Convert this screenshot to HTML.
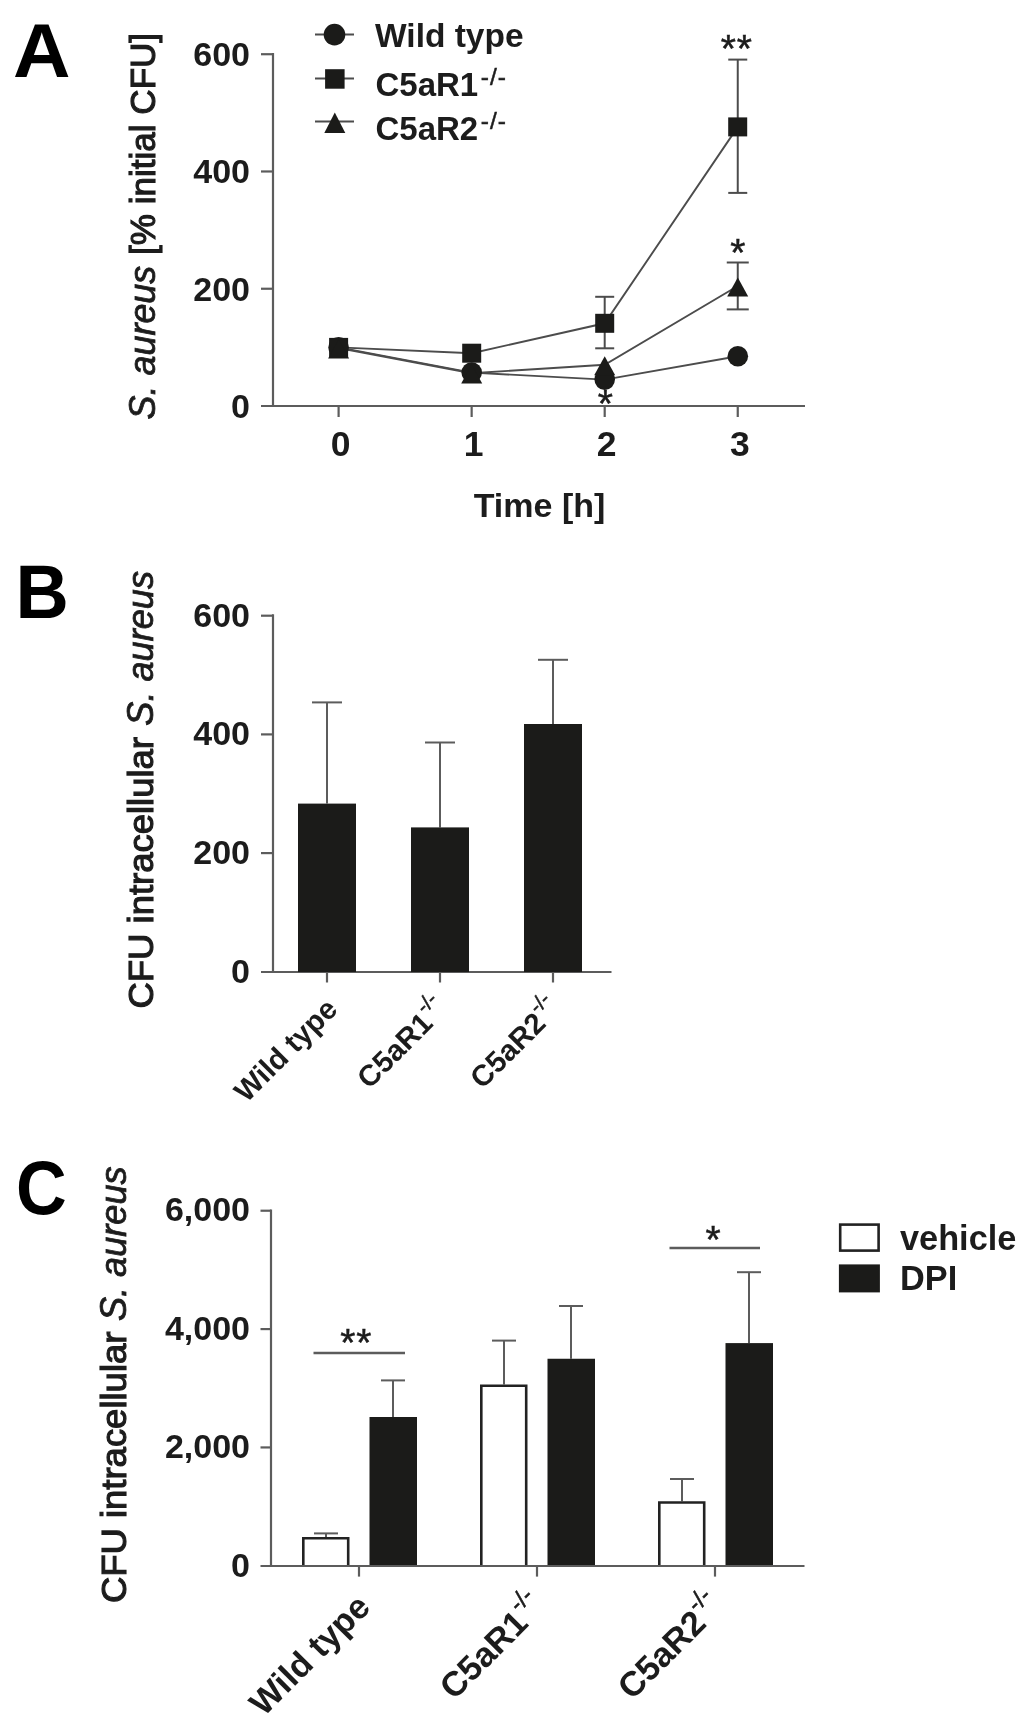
<!DOCTYPE html>
<html lang="en">
<head>
<meta charset="utf-8">
<title>Figure</title>
<style>
html,body{margin:0;padding:0;background:#fff;}
body{width:1024px;height:1728px;overflow:hidden;}
svg{display:block;filter:blur(0.55px);}
svg text{font-family:"Liberation Sans",sans-serif;fill:#1c1c1c;}
</style>
</head>
<body>
<svg width="1024" height="1728" viewBox="0 0 1024 1728">
<rect width="1024" height="1728" fill="#fff"/>
<text x="13" y="76.8" font-size="76" text-anchor="start" font-weight="bold" font-style="normal" style="fill:#000" textLength="57.5" lengthAdjust="spacingAndGlyphs">A</text>
<text x="15.6" y="617.6" font-size="76.5" text-anchor="start" font-weight="bold" font-style="normal" style="fill:#000" textLength="53.3" lengthAdjust="spacingAndGlyphs">B</text>
<text x="16" y="1214.4" font-size="76.5" text-anchor="start" font-weight="bold" font-style="normal" style="fill:#000" textLength="50.7" lengthAdjust="spacingAndGlyphs">C</text>
<line x1="273" y1="53" x2="273" y2="407.1" stroke="#5c5c5c" stroke-width="2.2"/>
<line x1="261" y1="406" x2="805" y2="406" stroke="#5c5c5c" stroke-width="2.2"/>
<text x="250" y="418.0" font-size="34" text-anchor="end" font-weight="bold" font-style="normal" >0</text>
<line x1="261" y1="288.74" x2="273" y2="288.74" stroke="#5c5c5c" stroke-width="2.2"/>
<text x="250" y="300.74" font-size="34" text-anchor="end" font-weight="bold" font-style="normal" >200</text>
<line x1="261" y1="171.48" x2="273" y2="171.48" stroke="#5c5c5c" stroke-width="2.2"/>
<text x="250" y="183.48" font-size="34" text-anchor="end" font-weight="bold" font-style="normal" >400</text>
<line x1="261" y1="54.21999999999997" x2="273" y2="54.21999999999997" stroke="#5c5c5c" stroke-width="2.2"/>
<text x="250" y="66.21999999999997" font-size="34" text-anchor="end" font-weight="bold" font-style="normal" >600</text>
<line x1="338.6" y1="406" x2="338.6" y2="417" stroke="#5c5c5c" stroke-width="2.2"/>
<text x="340.6" y="456" font-size="35.5" text-anchor="middle" font-weight="bold" font-style="normal" >0</text>
<line x1="471.65000000000003" y1="406" x2="471.65000000000003" y2="417" stroke="#5c5c5c" stroke-width="2.2"/>
<text x="473.65000000000003" y="456" font-size="35.5" text-anchor="middle" font-weight="bold" font-style="normal" >1</text>
<line x1="604.7" y1="406" x2="604.7" y2="417" stroke="#5c5c5c" stroke-width="2.2"/>
<text x="606.7" y="456" font-size="35.5" text-anchor="middle" font-weight="bold" font-style="normal" >2</text>
<line x1="737.75" y1="406" x2="737.75" y2="417" stroke="#5c5c5c" stroke-width="2.2"/>
<text x="739.75" y="456" font-size="35.5" text-anchor="middle" font-weight="bold" font-style="normal" >3</text>
<text x="539.5" y="517" font-size="34" text-anchor="middle" font-weight="bold" font-style="normal" >Time [h]</text>
<text transform="translate(154.7,419.4) rotate(-90)" font-size="36" font-style="italic" stroke="#1c1c1c" stroke-width="0.8" textLength="153.7" lengthAdjust="spacingAndGlyphs">S. aureus</text>
<text transform="translate(154.7,254.9) rotate(-90)" font-size="35" font-weight="normal" stroke="#1c1c1c" stroke-width="1.15" textLength="222" lengthAdjust="spacingAndGlyphs">[% initial CFU]</text>
<polyline points="338.6,347.4 471.7,372.6 604.7,379.6 737.8,356.2" fill="none" stroke="#4c4c4c" stroke-width="1.9"/>
<polyline points="338.6,348.0 471.7,373.2 604.7,364.7 737.8,286.0" fill="none" stroke="#4c4c4c" stroke-width="1.9"/>
<polyline points="338.6,347.4 471.7,353.2 604.7,323.3 737.8,126.9" fill="none" stroke="#4c4c4c" stroke-width="1.9"/>
<line x1="737.75" y1="59.6" x2="737.75" y2="192.9" stroke="#4c4c4c" stroke-width="2"/>
<line x1="728.25" y1="59.6" x2="747.25" y2="59.6" stroke="#4c4c4c" stroke-width="2"/>
<line x1="728.25" y1="192.9" x2="747.25" y2="192.9" stroke="#4c4c4c" stroke-width="2"/>
<line x1="604.7" y1="296.8" x2="604.7" y2="348.3" stroke="#4c4c4c" stroke-width="2"/>
<line x1="595.2" y1="296.8" x2="614.2" y2="296.8" stroke="#4c4c4c" stroke-width="2"/>
<line x1="595.2" y1="348.3" x2="614.2" y2="348.3" stroke="#4c4c4c" stroke-width="2"/>
<line x1="737.75" y1="262.5" x2="737.75" y2="309.4" stroke="#4c4c4c" stroke-width="2"/>
<line x1="726.75" y1="262.5" x2="748.75" y2="262.5" stroke="#4c4c4c" stroke-width="2"/>
<line x1="726.75" y1="309.4" x2="748.75" y2="309.4" stroke="#4c4c4c" stroke-width="2"/>
<text x="605.7" y="417.2" font-size="39" text-anchor="middle" font-weight="normal" font-style="normal" stroke="#1c1c1c" stroke-width="0.5" letter-spacing="0.9">*</text>
<text x="736.75" y="61.7" font-size="39" text-anchor="middle" font-weight="normal" font-style="normal" stroke="#1c1c1c" stroke-width="0.5" letter-spacing="0.9">**</text>
<text x="738.25" y="266.3" font-size="39" text-anchor="middle" font-weight="normal" font-style="normal" stroke="#1c1c1c" stroke-width="0.5" letter-spacing="0.9">*</text>
<circle cx="338.6" cy="347.4" r="10.3" fill="#1b1b19"/>
<rect x="329.1" y="337.9" width="19" height="19" fill="#1b1b19"/>
<polygon points="338.6,339.4 328.1,358.4 349.1,358.4" fill="#1b1b19"/>
<circle cx="471.7" cy="372.6" r="10.3" fill="#1b1b19"/>
<rect x="462.2" y="343.7" width="19" height="19" fill="#1b1b19"/>
<polygon points="471.7,364.6 461.2,383.6 482.2,383.6" fill="#1b1b19"/>
<circle cx="604.7" cy="379.6" r="10.3" fill="#1b1b19"/>
<rect x="595.2" y="313.8" width="19" height="19" fill="#1b1b19"/>
<polygon points="604.7,356.2 594.2,375.2 615.2,375.2" fill="#1b1b19"/>
<circle cx="737.8" cy="356.2" r="10.3" fill="#1b1b19"/>
<rect x="728.2" y="117.4" width="19" height="19" fill="#1b1b19"/>
<polygon points="737.8,277.4 727.2,296.4 748.2,296.4" fill="#1b1b19"/>
<line x1="315" y1="34.6" x2="354" y2="34.6" stroke="#4c4c4c" stroke-width="2"/>
<circle cx="334.5" cy="34.6" r="10.8" fill="#1b1b19"/>
<line x1="315" y1="78.5" x2="354" y2="78.5" stroke="#4c4c4c" stroke-width="2"/>
<rect x="325.1" y="69.2" width="19.5" height="19.5" fill="#1b1b19"/>
<line x1="315" y1="121.6" x2="354" y2="121.6" stroke="#4c4c4c" stroke-width="2"/>
<polygon points="334.8,112.4 324.3,132.9 345.3,132.9" fill="#1b1b19"/>
<text x="375" y="47" font-size="33.5" text-anchor="start" font-weight="bold" font-style="normal" >Wild type</text>
<text x="375.5" y="96" font-size="33" text-anchor="start" font-weight="bold" font-style="normal" >C5aR1<tspan font-size="24.5" dy="-11.5" dx="2.5" letter-spacing="1" font-weight="normal" stroke="#1c1c1c" stroke-width="0.5">-/-</tspan></text>
<text x="375.5" y="140.3" font-size="33" text-anchor="start" font-weight="bold" font-style="normal" >C5aR2<tspan font-size="24.5" dy="-11.5" dx="2.5" letter-spacing="1" font-weight="normal" stroke="#1c1c1c" stroke-width="0.5">-/-</tspan></text>
<line x1="273" y1="614.3" x2="273" y2="973" stroke="#5c5c5c" stroke-width="2.2"/>
<line x1="261" y1="972" x2="611.5" y2="972" stroke="#5c5c5c" stroke-width="2.2"/>
<text x="250" y="982.8" font-size="34" text-anchor="end" font-weight="bold" font-style="normal" >0</text>
<line x1="261" y1="853.0999999999999" x2="273" y2="853.0999999999999" stroke="#5c5c5c" stroke-width="2.2"/>
<text x="250" y="864.0999999999999" font-size="34" text-anchor="end" font-weight="bold" font-style="normal" >200</text>
<line x1="261" y1="734.4" x2="273" y2="734.4" stroke="#5c5c5c" stroke-width="2.2"/>
<text x="250" y="745.4" font-size="34" text-anchor="end" font-weight="bold" font-style="normal" >400</text>
<line x1="261" y1="615.6999999999999" x2="273" y2="615.6999999999999" stroke="#5c5c5c" stroke-width="2.2"/>
<text x="250" y="626.6999999999999" font-size="34" text-anchor="end" font-weight="bold" font-style="normal" >600</text>
<line x1="327" y1="972" x2="327" y2="982.5" stroke="#5c5c5c" stroke-width="2.2"/>
<line x1="327" y1="702.4" x2="327" y2="803.6" stroke="#5c5c5c" stroke-width="2"/>
<line x1="312" y1="702.4" x2="342" y2="702.4" stroke="#5c5c5c" stroke-width="2"/>
<rect x="298" y="803.6" width="58" height="168.4" fill="#1b1b19"/>
<line x1="440" y1="972" x2="440" y2="982.5" stroke="#5c5c5c" stroke-width="2.2"/>
<line x1="440" y1="742.5" x2="440" y2="827.4" stroke="#5c5c5c" stroke-width="2"/>
<line x1="425" y1="742.5" x2="455" y2="742.5" stroke="#5c5c5c" stroke-width="2"/>
<rect x="411" y="827.4" width="58" height="144.6" fill="#1b1b19"/>
<line x1="553" y1="972" x2="553" y2="982.5" stroke="#5c5c5c" stroke-width="2.2"/>
<line x1="553" y1="659.8" x2="553" y2="724" stroke="#5c5c5c" stroke-width="2"/>
<line x1="538" y1="659.8" x2="568" y2="659.8" stroke="#5c5c5c" stroke-width="2"/>
<rect x="524" y="724" width="58" height="248.0" fill="#1b1b19"/>
<text transform="translate(339,1011) rotate(-45)" font-size="29.5" font-weight="bold" text-anchor="end">Wild type</text>
<text transform="translate(448.6,1010.7) rotate(-45)" font-size="29.5" font-weight="bold" text-anchor="end">C5aR1<tspan font-size="21" dy="-14.3" dx="0.4" font-weight="normal" stroke="#1c1c1c" stroke-width="0.5">-/-</tspan></text>
<text transform="translate(561.6,1010.7) rotate(-45)" font-size="29.5" font-weight="bold" text-anchor="end">C5aR2<tspan font-size="21" dy="-14.3" dx="0.4" font-weight="normal" stroke="#1c1c1c" stroke-width="0.5">-/-</tspan></text>
<text transform="translate(152.7,1008.5) rotate(-90)" font-size="35" font-weight="normal" stroke="#1c1c1c" stroke-width="1.15" textLength="271.5" lengthAdjust="spacingAndGlyphs">CFU intracellular</text>
<text transform="translate(152.7,725.7) rotate(-90)" font-size="36" font-style="italic" stroke="#1c1c1c" stroke-width="0.8" textLength="154.7" lengthAdjust="spacingAndGlyphs">S. aureus</text>
<text x="250" y="1576.5" font-size="34" text-anchor="end" font-weight="bold" font-style="normal" >0</text>
<line x1="260.5" y1="1447.44" x2="271" y2="1447.44" stroke="#5c5c5c" stroke-width="2.2"/>
<text x="250" y="1458.14" font-size="34" text-anchor="end" font-weight="bold" font-style="normal" >2,000</text>
<line x1="260.5" y1="1329.08" x2="271" y2="1329.08" stroke="#5c5c5c" stroke-width="2.2"/>
<text x="250" y="1339.78" font-size="34" text-anchor="end" font-weight="bold" font-style="normal" >4,000</text>
<line x1="260.5" y1="1210.7199999999998" x2="271" y2="1210.7199999999998" stroke="#5c5c5c" stroke-width="2.2"/>
<text x="250" y="1221.4199999999998" font-size="34" text-anchor="end" font-weight="bold" font-style="normal" >6,000</text>
<line x1="359" y1="1566" x2="359" y2="1576.6" stroke="#5c5c5c" stroke-width="2.2"/>
<line x1="326" y1="1533.4" x2="326" y2="1536.9" stroke="#5c5c5c" stroke-width="2"/>
<line x1="314" y1="1533.4" x2="338" y2="1533.4" stroke="#5c5c5c" stroke-width="2"/>
<path d="M303.3 1566 V1538.2 H348.2 V1566" fill="#fff" stroke="#222" stroke-width="2.6"/>
<line x1="393" y1="1380.4" x2="393" y2="1417" stroke="#5c5c5c" stroke-width="2"/>
<line x1="381" y1="1380.4" x2="405" y2="1380.4" stroke="#5c5c5c" stroke-width="2"/>
<rect x="369.5" y="1417" width="47.5" height="149.0" fill="#1b1b19"/>
<line x1="537" y1="1566" x2="537" y2="1576.6" stroke="#5c5c5c" stroke-width="2.2"/>
<line x1="504" y1="1340.6" x2="504" y2="1384.4" stroke="#5c5c5c" stroke-width="2"/>
<line x1="492" y1="1340.6" x2="516" y2="1340.6" stroke="#5c5c5c" stroke-width="2"/>
<path d="M481.3 1566 V1385.7 H526.2 V1566" fill="#fff" stroke="#222" stroke-width="2.6"/>
<line x1="571" y1="1306" x2="571" y2="1358.75" stroke="#5c5c5c" stroke-width="2"/>
<line x1="559" y1="1306" x2="583" y2="1306" stroke="#5c5c5c" stroke-width="2"/>
<rect x="547.5" y="1358.75" width="47.5" height="207.2" fill="#1b1b19"/>
<line x1="715" y1="1566" x2="715" y2="1576.6" stroke="#5c5c5c" stroke-width="2.2"/>
<line x1="682" y1="1479" x2="682" y2="1501.25" stroke="#5c5c5c" stroke-width="2"/>
<line x1="670" y1="1479" x2="694" y2="1479" stroke="#5c5c5c" stroke-width="2"/>
<path d="M659.3 1566 V1502.5 H704.2 V1566" fill="#fff" stroke="#222" stroke-width="2.6"/>
<line x1="749" y1="1272.2" x2="749" y2="1343.1" stroke="#5c5c5c" stroke-width="2"/>
<line x1="737" y1="1272.2" x2="761" y2="1272.2" stroke="#5c5c5c" stroke-width="2"/>
<rect x="725.5" y="1343.1" width="47.5" height="222.9" fill="#1b1b19"/>
<line x1="271" y1="1209.6" x2="271" y2="1567" stroke="#5c5c5c" stroke-width="2.2"/>
<line x1="260.5" y1="1566" x2="804.5" y2="1566" stroke="#5c5c5c" stroke-width="2.2"/>
<line x1="313.5" y1="1353" x2="405" y2="1353" stroke="#5c5c5c" stroke-width="2.4"/>
<line x1="669.5" y1="1248" x2="760" y2="1248" stroke="#5c5c5c" stroke-width="2.4"/>
<text x="356.3" y="1356.3" font-size="39" text-anchor="middle" font-weight="normal" font-style="normal" stroke="#1c1c1c" stroke-width="0.5" letter-spacing="0.9">**</text>
<text x="713.6" y="1252.5" font-size="39" text-anchor="middle" font-weight="normal" font-style="normal" stroke="#1c1c1c" stroke-width="0.5" letter-spacing="0.9">*</text>
<text transform="translate(372,1609) rotate(-45)" font-size="34.5" font-weight="bold" text-anchor="end">Wild type</text>
<text transform="translate(546.2,1608.7) rotate(-45)" font-size="34.5" font-weight="bold" text-anchor="end">C5aR1<tspan font-size="24" dy="-16.5" dx="0.4" font-weight="normal" stroke="#1c1c1c" stroke-width="0.5">-/-</tspan></text>
<text transform="translate(724.2,1608.7) rotate(-45)" font-size="34.5" font-weight="bold" text-anchor="end">C5aR2<tspan font-size="24" dy="-16.5" dx="0.4" font-weight="normal" stroke="#1c1c1c" stroke-width="0.5">-/-</tspan></text>
<text transform="translate(126.1,1603.1) rotate(-90)" font-size="35" font-weight="normal" stroke="#1c1c1c" stroke-width="1.15" textLength="271.5" lengthAdjust="spacingAndGlyphs">CFU intracellular</text>
<text transform="translate(126.1,1321.1) rotate(-90)" font-size="36" font-style="italic" stroke="#1c1c1c" stroke-width="0.8" textLength="154.7" lengthAdjust="spacingAndGlyphs">S. aureus</text>
<rect x="840.2" y="1224.6" width="38.4" height="26" fill="#fff" stroke="#222" stroke-width="2.6"/>
<rect x="838.9" y="1264.4" width="41" height="28" fill="#1b1b19"/>
<text x="900" y="1249.5" font-size="34.3" text-anchor="start" font-weight="bold" font-style="normal" >vehicle</text>
<text x="900" y="1289.5" font-size="34.3" text-anchor="start" font-weight="bold" font-style="normal" >DPI</text>
</svg>
</body>
</html>
